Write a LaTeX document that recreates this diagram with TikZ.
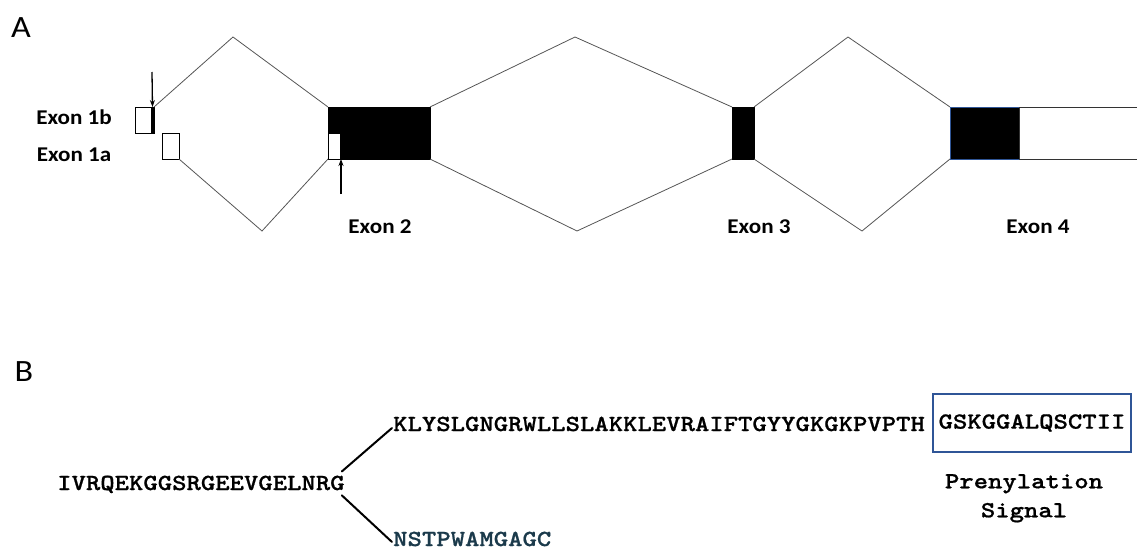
\documentclass[tikz,border=0pt]{standalone}
\usepackage{fontspec}
\usetikzlibrary{arrows.meta}
\newfontfamily\lblfont[FakeStretch=1.1]{Carlito}
\newfontfamily\seqfont[Extension=.otf, FakeStretch=1.19, FakeBold=0.8]{lmmonolt10-bold}
\definecolor{boxblue}{HTML}{2F5597}
\definecolor{tealdark}{HTML}{1B3A4B}
\definecolor{intron}{HTML}{555555}
\tikzset{
  exonbox/.style={draw=black, line width=0.8pt, minimum width=#1, inner sep=0pt, outer sep=0pt},
  intronline/.style={draw=intron, line width=0.8pt},
  panellbl/.style={font=\lblfont\fontsize{31}{31}\selectfont, inner sep=0pt},
  exonlbl/.style={font=\lblfont\bfseries\fontsize{21}{21}\selectfont, inner sep=0pt},
  seqtxt/.style={font=\seqfont\fontsize{23}{29}\selectfont, inner sep=0pt},
  pointer/.style={-{Stealth[length=7pt,width=5pt]}, line width=1.3pt},
  branch/.style={line width=2pt, line cap=round}
}
\begin{document}
\begin{tikzpicture}[x=1pt,y=-1pt]
\useasboundingbox (0,0) rectangle (1137,549);
% Panel labels
\node[panellbl] (lA) at (21,28) {A};
\node[panellbl] (lB) at (24,372) {B};
% Exon labels
\node[exonlbl] (t1b) at (74,117) {Exon 1b};
\node[exonlbl] (t1a) at (74,155) {Exon 1a};
\node[exonlbl] (t2) at (380,227) {Exon 2};
\node[exonlbl] (t3) at (759,227) {Exon 3};
\node[exonlbl] (t4) at (1038,227) {Exon 4};
% Exons
\node[exonbox=19pt, minimum height=26pt, fill=white] (e1b) at (144.5,120) {};
\node[exonbox=3pt, minimum height=26pt, fill=black, draw=none] (e1bbar) at (152.5,120) {};
\node[exonbox=17pt, minimum height=26pt, fill=white] (e1a) at (170.5,146) {};
\node[exonbox=102pt, minimum height=52pt, fill=black] (e2) at (379,133) {};
\node[exonbox=12pt, minimum height=26pt, fill=white] (e2w) at (334,146) {};
\node[exonbox=22pt, minimum height=52pt, fill=black] (e3) at (743,133) {};
\node[exonbox=69pt, minimum height=52pt, fill=black, draw=boxblue] (e4) at (984.5,133) {};
\coordinate (utrtop) at (1137,107);
\coordinate (utrbot) at (1137,159);
\draw[line width=1pt, draw=black!80] (e4.north east) -- (utrtop);
\draw[line width=1pt, draw=black!80] (e4.south east) -- (utrbot);
\draw[line width=1pt, draw=black!80] (e4.north east) -- (e4.south east);
% Introns
\coordinate (a1) at (233,37);
\coordinate (b1) at (262,231);
\coordinate (a2) at (575,37);
\coordinate (b2) at (577,231);
\coordinate (a3) at (848,37);
\coordinate (b3) at (862,231);
\draw[intronline] (e1bbar.north east) -- (a1) -- (e2.north west);
\draw[intronline] (e1a.south east) -- (b1) -- (e2.south west);
\draw[intronline] (e2.north east) -- (a2) -- (e3.north west);
\draw[intronline] (e2.south east) -- (b2) -- (e3.south west);
\draw[intronline] (e3.north east) -- (a3) -- (e4.north west);
\draw[intronline] (e3.south east) -- (b3) -- (e4.south west);
% Arrows
\coordinate (p1) at (152,72);
\coordinate (p2) at (341,194);
\draw[pointer] (p1) -- (e1bbar.north);
\draw[pointer] (p2) -- (341,159);
% Panel B
\node[seqtxt, anchor=base west] (s1) at (57,490) {IVRQEKGGSRGEEVGELNRG};
\node[seqtxt, anchor=base west] (s2) at (393,431) {KLYSLGNGRWLLSLAKKLEVRAIFTGYYGKGKPVPTH};
\node[seqtxt, anchor=base west, text=tealdark] (s3) at (393,546) {NSTPWAMGAGC};
\node[seqtxt, draw=boxblue, line width=1.5pt, minimum width=198pt, minimum height=58pt] (sig) at (1032,423) {GSKGGALQSCTII};
\node[seqtxt, align=center, anchor=north] (pren) at (1024,474) {Prenylation\\Signal};
\draw[branch] ([shift={(-3,-4)}]s1.north east) -- ([shift={(-1,-3)}]s2.base west);
\draw[branch] ([shift={(-3,2)}]s1.south east) -- ([shift={(-1,-4)}]s3.base west);
\end{tikzpicture}
\end{document}
